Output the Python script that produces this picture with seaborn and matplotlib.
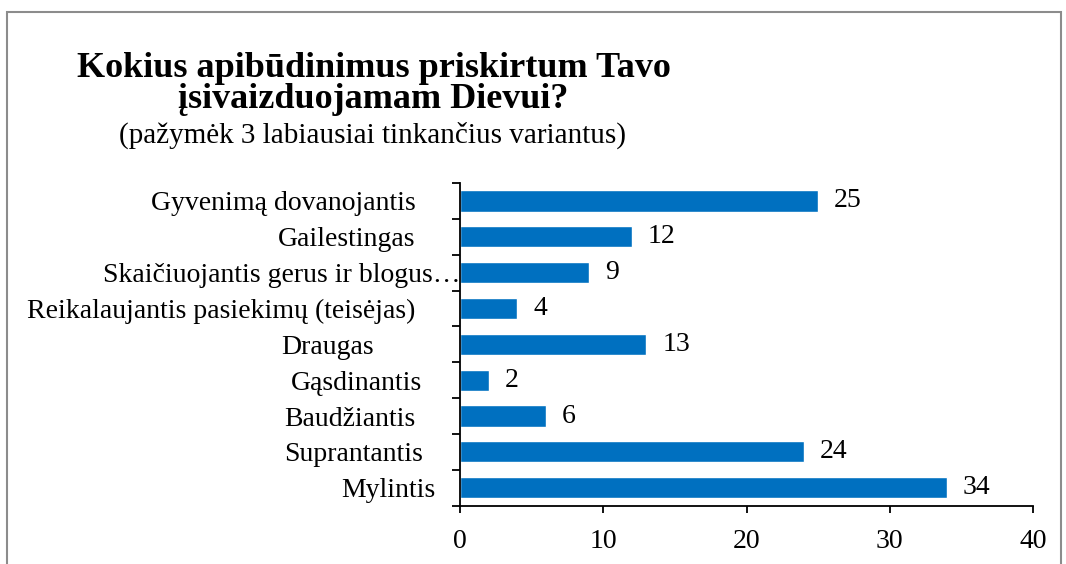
import numpy as np
import pandas as pd
import seaborn as sns
import matplotlib.pyplot as plt
from matplotlib.patches import Rectangle
from matplotlib.transforms import ScaledTranslation

sns.set_style("white")
plt.rcParams["font.family"] = ["Liberation Serif", "DejaVu Serif"]
plt.rcParams["text.color"] = "black"
plt.rcParams["xtick.color"] = "black"
plt.rcParams["ytick.color"] = "black"

# data (top to bottom as shown)
labels = [
    "Gyvenimą dovanojantis",
    "Gailestingas",
    "Skaičiuojantis gerus ir blogus…",
    "Reikalaujantis pasiekimų (teisėjas)",
    "Draugas",
    "Gąsdinantis",
    "Baudžiantis",
    "Suprantantis",
    "Mylintis",
]
counts = [25, 12, 9, 4, 13, 2, 6, 24, 34]
xticks = [0, 10, 20, 30, 40]

# small horizontal shifts (px) of single category labels, as in the original
label_shift_px = [0, 0, 45, 0, -42, 7, 0, 7, 20]

df = pd.DataFrame({"label": labels, "count": counts})

fig = plt.figure(figsize=(10.66, 5.64), dpi=100)
ax = fig.add_axes([460 / 1066, 1 - 505.7 / 564, (1033 - 460) / 1066, (505.7 - 183) / 564])

sns.barplot(data=df, y="label", x="count", color="#0070C0", saturation=1,
            width=0.59, orient="h", ax=ax)

ax.bar_label(ax.containers[0], fontsize=20, padding=11.5, color="black")

ax.set_xlim(0, 40)
ax.set_xticks(xticks)
ax.set_ylim(len(labels) - 0.5, -0.5)
ax.set_xlabel("")
ax.set_ylabel("")

for side in ["top", "right"]:
    ax.spines[side].set_visible(False)
for side in ["left", "bottom"]:
    ax.spines[side].set_color("black")
    ax.spines[side].set_linewidth(1.3)

ax.set_yticks(np.arange(-0.5, len(labels), 1), minor=True)
ax.tick_params(axis="y", which="major", length=0, pad=32, labelsize=20)
ax.tick_params(axis="y", which="minor", length=6, width=1.3, direction="out", left=True)
ax.tick_params(axis="x", which="major", length=5, width=1.3, direction="out",
               bottom=True, pad=11.5, labelsize=20)

for lab, dx in zip(ax.get_yticklabels(), label_shift_px):
    lab.set_transform(lab.get_transform() + ScaledTranslation(dx / 100, 0, fig.dpi_scale_trans))

# titles (two-line title kept as one text, tight line spacing like the original)
fig.text(373.5 / 1066, 1 - 108.3 / 564, "Kokius apibūdinimus priskirtum Tavo\nįsivaizduojamam Dievui?",
         ha="center", va="baseline", multialignment="center",
         fontsize=26, fontweight="bold", linespacing=0.95)
fig.text(372.5 / 1066, 1 - 143 / 564, "(pažymėk 3 labiausiai tinkančius variantus)",
         ha="center", va="baseline", fontsize=21)

# chart frame
fig.patches.append(Rectangle((7 / 1066, -0.1), (1061 - 7) / 1066, 1.1 - 11.7 / 564,
                             transform=fig.transFigure, fill=False,
                             edgecolor="#8c8c8c", linewidth=1.5, clip_on=False))

fig.savefig("out.png", dpi=100)
